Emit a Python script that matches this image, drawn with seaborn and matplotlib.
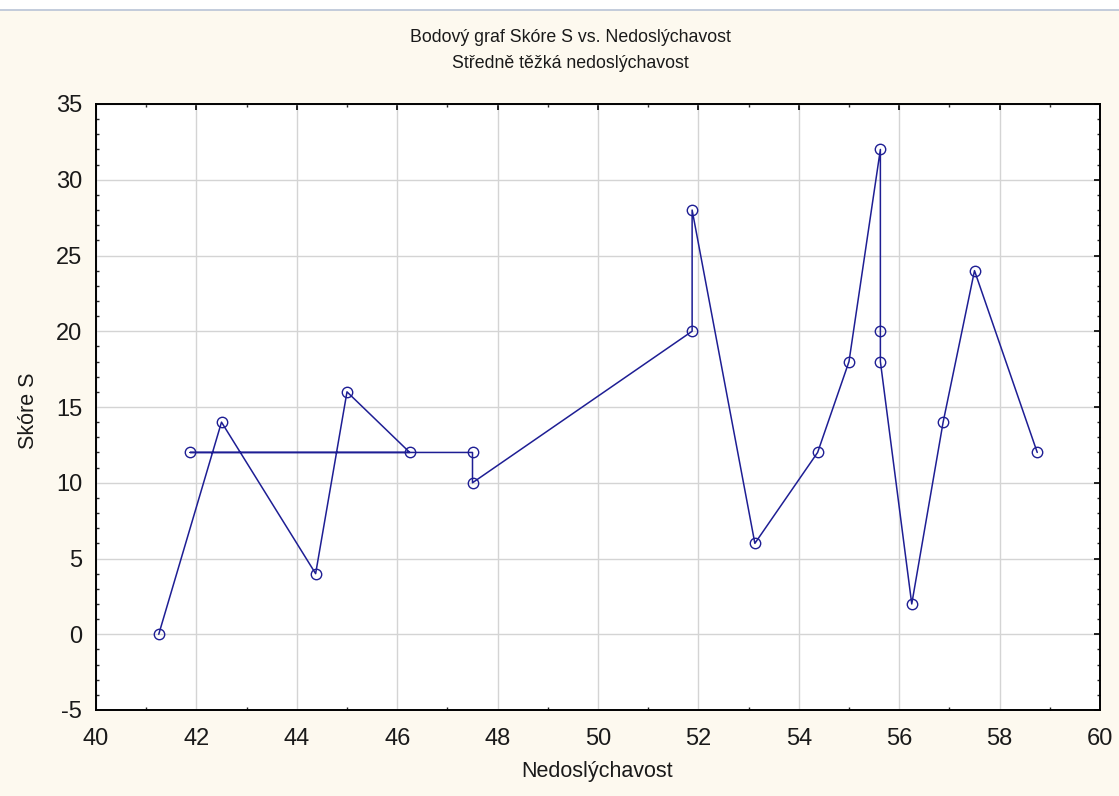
import matplotlib
matplotlib.use("Agg")
import matplotlib.pyplot as plt
from matplotlib.lines import Line2D
from matplotlib.patches import Rectangle
from matplotlib.ticker import MultipleLocator
import seaborn as sns
import pandas as pd

# Hearing loss (x) and S score (y), in recording order
nedoslychavost = [41.25, 42.5, 44.375, 45.0, 46.25, 41.875, 47.5, 47.5,
                  51.875, 51.875, 53.125, 54.375, 55.0, 55.625, 55.625,
                  55.625, 56.25, 56.875, 57.5, 58.75]
skore_s = [0, 14, 4, 16, 12, 12, 12, 10, 20, 28, 6, 12, 18, 32, 20, 18,
           2, 14, 24, 12]

x_ticks = [40, 42, 44, 46, 48, 50, 52, 54, 56, 58, 60]
y_ticks = [-5, 0, 5, 10, 15, 20, 25, 30, 35]

title_lines = ["Bodový graf Skóre S vs. Nedoslýchavost",
               "Středně těžká nedoslýchavost"]
x_label = "Nedoslýchavost"
y_label = "Skóre S"

df = pd.DataFrame({"x": nedoslychavost, "y": skore_s})

sns.set_style("white")
plt.rcParams["font.family"] = ["Liberation Sans", "DejaVu Sans"]

W, H = 1119, 796
bg = "#FDF9EF"
navy = "#1E1E94"
txt = "#1a1a1a"

fig = plt.figure(figsize=(W / 100, H / 100), dpi=100, facecolor=bg)

# thin window border strip along the top edge
fig.add_artist(Rectangle((0, 1 - 10 / H), 1, 10 / H, transform=fig.transFigure,
                         facecolor="white", edgecolor="none", zorder=0))
fig.add_artist(Line2D([0, 1], [1 - 10 / H, 1 - 10 / H], transform=fig.transFigure,
                      color="#B9C3D6", lw=1.2))

left, right, top, bottom = 96, 1100, 104, 710
ax = fig.add_axes([left / W, 1 - bottom / H, (right - left) / W, (bottom - top) / H])
ax.set_facecolor("white")

sns.lineplot(data=df, x="x", y="y", sort=False, estimator=None, ax=ax,
             color=navy, lw=1.1, marker="o", markersize=7.5,
             markerfacecolor="none", markeredgecolor=navy, markeredgewidth=1.0)

ax.set_xlim(40, 60)
ax.set_ylim(-5, 35)
ax.set_xticks(x_ticks)
ax.set_yticks(y_ticks)
ax.set_xticklabels([str(v) for v in x_ticks])
ax.set_yticklabels([str(v) for v in y_ticks])
ax.xaxis.set_minor_locator(MultipleLocator(1))
ax.yaxis.set_minor_locator(MultipleLocator(1))

ax.grid(True, which="major", color="#D4D4D4", lw=1.0)
ax.set_axisbelow(True)

for s in ax.spines.values():
    s.set_visible(True)
    s.set_color("black")
    s.set_linewidth(1.4)

ax.tick_params(which="major", direction="in", length=4, width=1.2,
               top=True, right=True, labelsize=17, colors="black")
ax.tick_params(axis="x", which="major", pad=13)
ax.tick_params(axis="y", which="major", pad=10)
ax.tick_params(which="minor", direction="in", length=2.5, width=1.0,
               top=True, right=True, bottom=True, left=True)
for lab in ax.get_xticklabels() + ax.get_yticklabels():
    lab.set_color(txt)

ax.set_xlabel("")
ax.set_ylabel("")

fig.text(570 / W, 1 - 38 / H, title_lines[0], ha="center", va="center",
         fontsize=12.8, color=txt)
fig.text(570 / W, 1 - 63 / H, title_lines[1], ha="center", va="center",
         fontsize=12.8, color=txt)
fig.text(597 / W, 1 - 772 / H, x_label, ha="center", va="center",
         fontsize=15.5, color=txt)
fig.text(29 / W, 1 - 411 / H, y_label, ha="center", va="center",
         rotation=90, fontsize=15.5, color=txt)

fig.savefig("out.png", dpi=100, facecolor=bg)
